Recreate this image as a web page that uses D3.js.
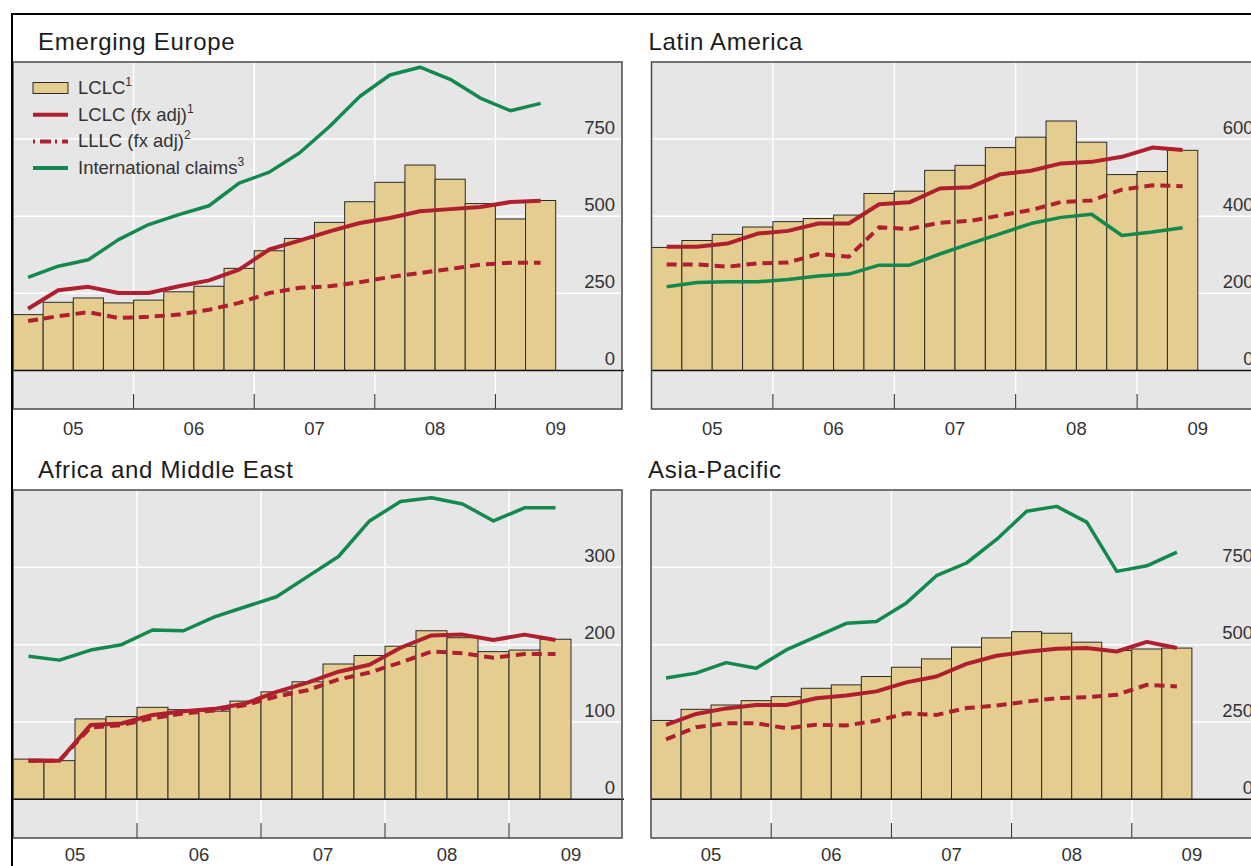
<!DOCTYPE html>
<html>
  <head>
    <meta charset="UTF-8" />
    <style>
      body {
        margin: 0;
        background-color: #ffffff;
      }
      text {
        font-family: "Liberation Sans", Arial, sans-serif;
        fill: #1c1c1c;
      }
    </style>
  </head>
  <body>
    <svg></svg>
    <script src="https://d3js.org/d3.v7.min.js"></script>

    <script>
      let width = 1251,
        height = 866;

      // quarterly observations, 2005 Q1 to 2009 Q2
      let quarters = [
        "2005Q1", "2005Q2", "2005Q3", "2005Q4",
        "2006Q1", "2006Q2", "2006Q3", "2006Q4",
        "2007Q1", "2007Q2", "2007Q3", "2007Q4",
        "2008Q1", "2008Q2", "2008Q3", "2008Q4",
        "2009Q1", "2009Q2",
      ];
      let yearLabels = ["05", "06", "07", "08", "09"];

      // Emerging Europe
      let eeLCLC = [181, 221, 235, 219, 228, 255, 273, 331, 388, 428, 480, 547, 610, 666, 620, 541, 491, 551];
      let eeLCLCfx = [200, 260, 271, 251, 251, 273, 292, 327, 392, 421, 451, 478, 494, 516, 523, 530, 546, 550];
      let eeLLLCfx = [160, 176, 189, 170, 174, 181, 197, 219, 251, 268, 273, 286, 303, 316, 329, 343, 349, 349];
      let eeIntl = [302, 338, 359, 424, 473, 505, 534, 607, 643, 705, 791, 888, 958, 983, 944, 883, 842, 866];

      // Latin America
      let laLCLC = [319, 337, 353, 372, 386, 394, 403, 459, 465, 519, 532, 578, 605, 647, 592, 508, 516, 571];
      let laLCLCfx = [321, 321, 329, 355, 362, 381, 381, 431, 436, 472, 475, 509, 518, 537, 541, 554, 578, 572];
      let laLLLCfx = [275, 275, 269, 278, 280, 302, 295, 371, 367, 383, 388, 402, 416, 437, 441, 469, 480, 478];
      let laIntl = [217, 228, 230, 230, 236, 245, 250, 273, 273, 302, 329, 355, 381, 397, 405, 350, 359, 370];

      // Africa and Middle East
      let amLCLC = [52, 50, 104, 107, 119, 116, 114, 127, 139, 152, 175, 186, 198, 218, 209, 191, 193, 207];
      let amLCLCfx = [50, 50, 96, 98, 109, 114, 117, 124, 139, 151, 165, 174, 196, 212, 213, 206, 213, 206];
      let amLLLCfx = [50, 50, 93, 96, 105, 111, 115, 122, 133, 141, 155, 164, 177, 191, 189, 183, 188, 188];
      let amIntl = [185, 180, 193, 200, 219, 218, 236, 249, 262, 288, 314, 360, 385, 390, 382, 360, 377, 377];

      // Asia-Pacific
      let apLCLC = [255, 291, 305, 319, 332, 359, 370, 397, 427, 454, 492, 522, 542, 537, 508, 481, 486, 489];
      let apLCLCfx = [241, 276, 294, 305, 305, 327, 336, 349, 378, 397, 438, 464, 477, 487, 489, 478, 509, 489];
      let apLLLCfx = [194, 233, 246, 246, 230, 241, 239, 254, 278, 273, 295, 303, 316, 327, 330, 338, 370, 365];
      let apIntl = [392, 408, 442, 424, 483, 526, 569, 575, 635, 723, 764, 840, 931, 947, 896, 737, 755, 799];

      let colors = {
        panel: "#e6e6e6",
        bar: "#e5cd90",
        red: "#af1f2f",
        green: "#13894d",
      };

      let panels = [
        { title: "Emerging Europe", left: 13, top: 62, bottom: 409, qw: 30.15, domain: [-125, 1000], ticks: [0, 250, 500, 750],
          bars: eeLCLC, fx: eeLCLCfx, ll: eeLLLCfx, intl: eeIntl, labelGap: 26 },
        { title: "Latin America", left: 651.5, top: 62, bottom: 409, qw: 30.35, domain: [-100, 800], ticks: [0, 200, 400, 600],
          bars: laLCLC, fx: laLCLCfx, ll: laLLLCfx, intl: laIntl, labelGap: 26 },
        { title: "Africa and Middle East", left: 13, top: 490, bottom: 838, qw: 31.0, domain: [-50, 400], ticks: [0, 100, 200, 300],
          bars: amLCLC, fx: amLCLCfx, ll: amLLLCfx, intl: amIntl, labelGap: 23 },
        { title: "Asia-Pacific", left: 651, top: 490, bottom: 838, qw: 30.05, domain: [-125, 1000], ticks: [0, 250, 500, 750],
          bars: apLCLC, fx: apLCLCfx, ll: apLLLCfx, intl: apIntl, labelGap: 23 },
      ];
      let panelWidth = 609;

      let svg = d3
        .select("svg")
        .attr("width", width)
        .attr("height", height)
        .attr("viewBox", "0 0 " + width + " " + height);

      svg.append("rect").attr("width", width).attr("height", height).attr("fill", "#fff");

      panels.forEach((p) => {
        let right = p.left + panelWidth;
        let x = d3.scaleLinear().domain([0, panelWidth / p.qw]).range([p.left, right]);
        let y = d3.scaleLinear().domain(p.domain).range([p.bottom, p.top]);
        let g = svg.append("g");

        g.append("rect")
          .attr("x", p.left)
          .attr("y", p.top)
          .attr("width", panelWidth)
          .attr("height", p.bottom - p.top)
          .attr("fill", colors.panel);

        // year boundaries (every 4 quarters)
        let yearStarts = yearLabels.slice(1).map((d, i) => (i + 1) * 4);

        g.selectAll(".vgrid")
          .data(yearStarts)
          .join("line")
          .attr("x1", (d) => x(d))
          .attr("x2", (d) => x(d))
          .attr("y1", p.top)
          .attr("y2", p.bottom)
          .attr("stroke", "#fff")
          .attr("stroke-width", 1.5);

        g.selectAll(".hgrid")
          .data(p.ticks.filter((t) => t != 0))
          .join("line")
          .attr("x1", p.left)
          .attr("x2", right)
          .attr("y1", (d) => y(d))
          .attr("y2", (d) => y(d))
          .attr("stroke", "#fff")
          .attr("stroke-width", 1.5);

        g.selectAll(".bar")
          .data(p.bars)
          .join("rect")
          .attr("x", (d, i) => x(i))
          .attr("width", (d, i) => x(i + 1) - x(i))
          .attr("y", (d) => y(d))
          .attr("height", (d) => y(0) - y(d))
          .attr("fill", colors.bar)
          .attr("stroke", "#2b2b2b")
          .attr("stroke-width", 1);

        let line = d3
          .line()
          .x((d, i) => x(i + 0.5))
          .y((d) => y(d));

        g.append("path")
          .attr("d", line(p.ll))
          .attr("fill", "none")
          .attr("stroke", colors.red)
          .attr("stroke-width", 4)
          .attr("stroke-dasharray", "10,6");

        g.append("path")
          .attr("d", line(p.fx))
          .attr("fill", "none")
          .attr("stroke", colors.red)
          .attr("stroke-width", 4)
          .attr("stroke-linejoin", "round");

        g.append("path")
          .attr("d", line(p.intl))
          .attr("fill", "none")
          .attr("stroke", colors.green)
          .attr("stroke-width", 3.5)
          .attr("stroke-linejoin", "round");

        // zero line
        g.append("line")
          .attr("x1", p.left)
          .attr("x2", right + 2)
          .attr("y1", y(0))
          .attr("y2", y(0))
          .attr("stroke", "#111")
          .attr("stroke-width", 1.5);

        g.selectAll(".xtick")
          .data(yearStarts)
          .join("line")
          .attr("x1", (d) => x(d))
          .attr("x2", (d) => x(d))
          .attr("y1", p.bottom - 15)
          .attr("y2", p.bottom)
          .attr("stroke", "#222")
          .attr("stroke-width", 1);

        g.append("rect")
          .attr("x", p.left)
          .attr("y", p.top)
          .attr("width", panelWidth)
          .attr("height", p.bottom - p.top)
          .attr("fill", "none")
          .attr("stroke", "#4a4a4a")
          .attr("stroke-width", 1.5);

        g.selectAll(".ylab")
          .data(p.ticks)
          .join("text")
          .attr("x", right - 7)
          .attr("y", (d) => y(d) - 5.5)
          .attr("text-anchor", "end")
          .style("font-size", "18.5px")
          .style("fill", "#333")
          .text((d) => d);

        g.selectAll(".xlab")
          .data(yearLabels)
          .join("text")
          .attr("x", (d, i) => x(i * 4 + 2))
          .attr("y", p.bottom + p.labelGap)
          .attr("text-anchor", "middle")
          .style("font-size", "18.5px")
          .style("fill", "#333")
          .text((d) => d);

        g.append("text")
          .attr("x", p.left + 25 - (p.left > 600 ? 28 : 0))
          .attr("y", p.top - 12)
          .style("font-size", "24px")
          .style("letter-spacing", "0.7px")
          .text(p.title);
      });

      // legend, inside the first panel
      let legendItems = [
        { label: "LCLC", sup: "1", type: "bar" },
        { label: "LCLC (fx adj)", sup: "1", type: "solid" },
        { label: "LLLC (fx adj)", sup: "2", type: "dashed" },
        { label: "International claims", sup: "3", type: "green" },
      ];

      let legend = svg.append("g").attr("transform", "translate(33,88)");

      legend
        .selectAll("g")
        .data(legendItems)
        .join("g")
        .attr("transform", (d, i) => "translate(0," + i * 26.7 + ")")
        .each(function (d) {
          let item = d3.select(this);
          if (d.type == "bar") {
            item.append("rect")
              .attr("x", 0)
              .attr("y", -5.5)
              .attr("width", 35)
              .attr("height", 11)
              .attr("fill", colors.bar)
              .attr("stroke", "#2b2b2b")
              .attr("stroke-width", 1);
          } else {
            item.append("line")
              .attr("x1", 0)
              .attr("x2", 35)
              .attr("stroke", d.type == "green" ? colors.green : colors.red)
              .attr("stroke-width", 4)
              .attr("stroke-dasharray", d.type == "dashed" ? "2,5,11,4" : null);
          }
          let t = item.append("text").attr("x", 45).attr("y", 6).style("font-size", "18.5px").style("fill", "#333");
          t.append("tspan").text(d.label);
          t.append("tspan").attr("dy", -8).style("font-size", "12px").text(d.sup);
        });

      // outer frame
      svg.append("path")
        .attr("d", "M12," + height + "V14H" + width)
        .attr("fill", "none")
        .attr("stroke", "#000")
        .attr("stroke-width", 2);
    </script>
  </body>
</html>
